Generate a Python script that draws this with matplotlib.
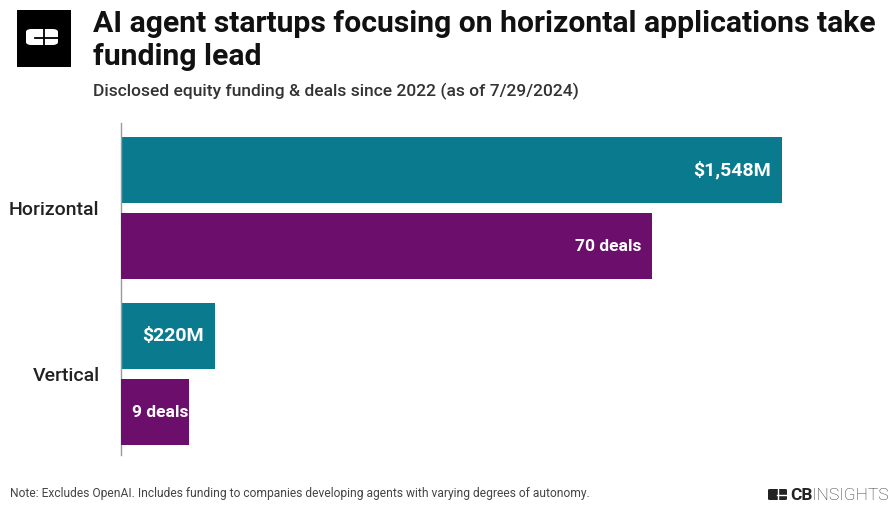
import matplotlib
matplotlib.use("Agg")
import matplotlib.pyplot as plt
from matplotlib.patches import Rectangle, FancyBboxPatch
from matplotlib.lines import Line2D

# Chart data
categories = ["Horizontal", "Vertical"]
funding_musd = [1548, 220]
deal_counts = [70, 9]
funding_labels = ["$1,548M", "$220M"]
deal_labels = ["70 deals", "9 deals"]

TEAL = "#0a7b8e"
PURPLE = "#6c0f6c"
W, H = 892, 505

plt.rcParams["font.family"] = ["Roboto", "DejaVu Sans"]

fig = plt.figure(figsize=(W / 100, H / 100), dpi=100)
fig.patch.set_facecolor("white")


def fx(x):
    return x / W


def fy(y):
    return 1 - y / H


# Axes: funding on the main x-axis, deal counts on a twin x-axis
ax_left, ax_right, ax_top, ax_bot = 121, 860, 123, 455
ax = fig.add_axes([fx(ax_left), fy(ax_bot), (ax_right - ax_left) / W, (ax_bot - ax_top) / H])
ax2 = ax.twiny()

ypos = list(range(len(categories)))
bar_h = 0.4
off = 0.229
y_fund = [i - off for i in ypos]
y_deal = [i + off for i in ypos]
fund_bars = ax.barh(y_fund, funding_musd, height=bar_h, color=TEAL)
deal_bars = ax2.barh(y_deal, deal_counts, height=bar_h, color=PURPLE)
ax.set_xlim(0, 1731)
ax2.set_xlim(0, 97.4)
ax.set_ylim(1.488, -0.512)

ax.set_yticks(ypos)
ax.set_yticklabels(categories, fontsize=14, color="#222222", fontweight="medium")
ax.tick_params(axis="y", length=0, pad=15.5)
ax.tick_params(axis="x", bottom=False, labelbottom=False)
ax2.tick_params(axis="x", top=False, labeltop=False)
for a in (ax, ax2):
    for s in a.spines.values():
        s.set_visible(False)
ax.spines["left"].set_visible(True)
ax.spines["left"].set_color("#9a9a9a")
ax.spines["left"].set_linewidth(1)


def label_bars(axis, bars, texts, size):
    out = []
    for bar, txt in zip(bars, texts):
        yc = bar.get_y() + bar.get_height() / 2
        t = axis.annotate(txt, xy=(bar.get_width(), yc), xytext=(-11, 0),
                          textcoords="offset pixels", ha="right", va="center",
                          color="white", fontsize=size, fontweight="bold")
        out.append((t, yc))
    return out


labels = label_bars(ax, fund_bars, funding_labels, 14) + label_bars(ax2, deal_bars, deal_labels, 12.5)
fig.canvas.draw()
for t, yc in labels:
    if t.get_window_extent().x0 < ax_left + 11:
        t.xy = (0, yc)
        t.set_position((11, 0))
        t.set_ha("left")

# Header
fig.text(fx(93), fy(32), "AI agent startups focusing on horizontal applications take",
         fontsize=21.7, fontweight="bold", color="#111111", va="baseline")
fig.text(fx(93), fy(65), "funding lead",
         fontsize=21.7, fontweight="bold", color="#111111", va="baseline")
fig.text(fx(93), fy(96), "Disclosed equity funding & deals since 2022 (as of 7/29/2024)",
         fontsize=12.5, fontweight="medium", color="#333333", va="baseline")

# Brand mark in the header
fig.add_artist(Rectangle((fx(17), fy(67)), fx(54), 57 / H, transform=fig.transFigure,
                         facecolor="black", edgecolor="none"))
fig.add_artist(FancyBboxPatch((fx(26), fy(45)), fx(32), 16 / H,
                              boxstyle="round,pad=0,rounding_size=0.006",
                              transform=fig.transFigure, facecolor="white", edgecolor="none"))
fig.add_artist(Line2D([fx(44), fx(44)], [fy(29), fy(45)], transform=fig.transFigure,
                      color="black", lw=1.3))
fig.add_artist(Line2D([fx(35), fx(58)], [fy(38), fy(38)], transform=fig.transFigure,
                      color="black", lw=1.3))

# Footer
fig.text(fx(10), fy(497),
         "Note: Excludes OpenAI. Includes funding to companies developing agents with varying degrees of autonomy.",
         fontsize=8.65, color="#444444", va="baseline")

fig.add_artist(FancyBboxPatch((fx(768), fy(500)), fx(19), 11 / H,
                              boxstyle="round,pad=0,rounding_size=0.002",
                              transform=fig.transFigure, facecolor="#222222", edgecolor="none"))
fig.add_artist(Line2D([fx(777), fx(787)], [fy(494.5), fy(494.5)], transform=fig.transFigure,
                      color="white", lw=1))
fig.add_artist(Line2D([fx(778), fx(778)], [fy(489), fy(500)], transform=fig.transFigure,
                      color="white", lw=1))
cb = fig.text(fx(790), fy(500), "CB", fontsize=12.5, fontweight="bold", color="#222222", va="baseline")
fig.canvas.draw()
fig.text(cb.get_window_extent().x1 / W, fy(500), "INSIGHTS", fontsize=12.5, fontweight="light",
         color="#333333", va="baseline")

fig.savefig("out.png", dpi=100, facecolor="white")
